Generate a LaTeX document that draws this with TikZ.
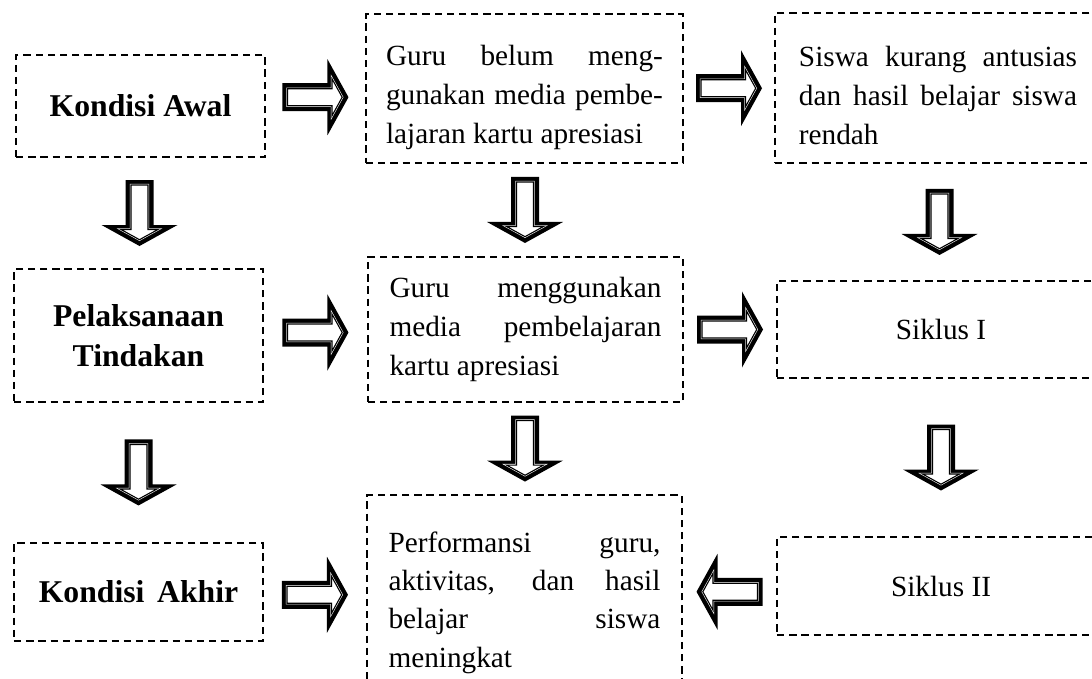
\documentclass[tikz,border=0pt]{standalone}
\usepackage{fontspec}
\setmainfont{Liberation Serif}
\usetikzlibrary{calc}

\tikzset{
  kotak/.style={draw, line width=1.15pt, dash pattern=on 3pt off 2pt, inner sep=0pt,
    font=\fontsize{12pt}{16pt}\selectfont},
  judul/.style={kotak, align=center, font=\fontsize{13pt}{16.4pt}\selectfont\bfseries},
  isi/.style={kotak, text width=#1, align=justify},
  panah/.pic={
    \fill (-33,-14) -- (12,-14) -- (12,-38) -- (33,0) -- (12,38) -- (12,14) -- (-33,14) -- cycle;
    \path[preaction={draw=white, line width=0.9pt}, fill=white, draw=black, line width=0.45pt]
      (-28,-8.5) -- (16.5,-8.5) -- (16.5,-18.5) -- (26.7,0) -- (16.5,18.5) -- (16.5,8.5) -- (-28,8.5) -- cycle;
  }
}

\begin{document}
\begin{tikzpicture}[x=0.41pt, y=-0.41pt]
    \useasboundingbox (0,0) rectangle (1092,679);
    \clip (0,0) rectangle (1092,679);

    % Kolom kiri
    \node[judul, minimum width=102.1pt, minimum height=41.8pt] (awal) at (140.5,106) {Kondisi Awal};
    \node[judul, minimum width=102.1pt, minimum height=54.5pt] (laksana) at (138.5,335.5) {Pelaksanaan\\Tindakan};
    \node[judul, minimum width=102.1pt, minimum height=40.2pt] (akhir) at (138.5,592) {Kondisi\hspace{0.4em}Akhir};

    % Kolom tengah
    \node[isi=113.5pt, minimum width=130pt, minimum height=61.1pt] (belum) at (524.5,88.5)
        {\rule{0pt}{15.5pt}Guru belum meng-\linebreak gunakan media pembe-\linebreak lajaran kartu apresiasi};
    \node[isi=111.5pt, minimum width=129.2pt, minimum height=59.5pt] (guna) at (525.5,329.5)
        {Guru menggunakan\linebreak media pembelajaran\linebreak kartu apresiasi};
    \node[isi=111.5pt, minimum width=129.2pt, minimum height=84pt,
          font=\fontsize{12pt}{15.7pt}\selectfont] (hasil) at (524.5,597.5)
        {\rule{0pt}{12.5pt}Performansi guru,\linebreak aktivitas, dan hasil\linebreak belajar siswa\linebreak meningkat};

    % Kolom kanan
    \node[isi=114pt, minimum width=133.7pt, minimum height=61.5pt] (siswa) at (938,88)
        {\rule{0pt}{14.5pt}Siswa kurang antusias\linebreak dan hasil belajar siswa\linebreak rendah};
    \node[kotak, minimum width=134.5pt, minimum height=39.8pt] (siklusa) at (941,329.5) {Siklus I};
    \node[kotak, minimum width=134.5pt, minimum height=40.2pt] (siklusb) at (941,586) {Siklus II};

    % Panah mendatar
    \pic at ($(awal.east)!.5!(belum.west)$) {panah};
    \pic at ($(laksana.east)!.5!(guna.west)$) {panah};
    \pic at ($(akhir.east)!.5!(hasil.west)$) {panah};
    \pic at ($(belum.east)!.5!(siswa.west)$) {panah};
    \pic at ($(guna.east)!.5!(siklusa.west)$) {panah};
    \pic[rotate=180] at ($(siklusb.west)!.5!(hasil.east)$) {panah};

    % Panah ke bawah
    \pic[rotate=-90] at ($(awal.south)!.5!(laksana.north)$) {panah};
    \pic[rotate=-90] at ($(laksana.south)!.5!(akhir.north)$) {panah};
    \pic[rotate=-90] at ($(belum.south)!.5!(guna.north)$) {panah};
    \pic[rotate=-90] at ($(guna.south)!.5!(hasil.north)$) {panah};
    \pic[rotate=-90] at ($(siswa.south)!.5!(siklusa.north)$) {panah};
    \pic[rotate=-90] at ($(siklusa.south)!.5!(siklusb.north)$) {panah};
\end{tikzpicture}
\end{document}
